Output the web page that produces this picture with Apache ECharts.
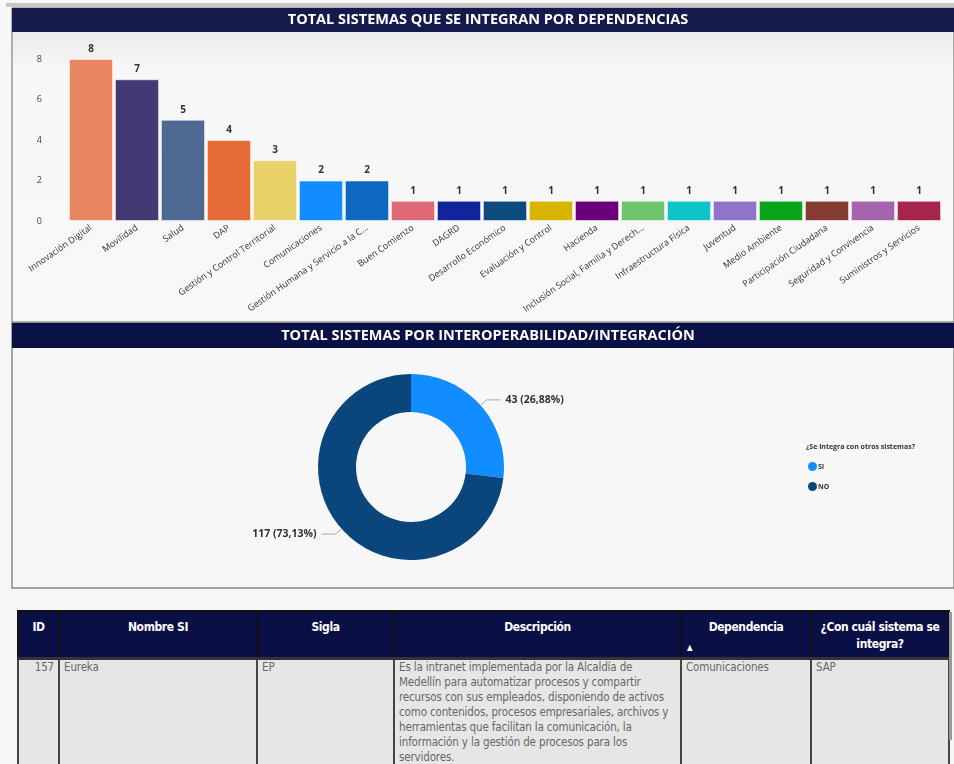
<!DOCTYPE html>
<html>
<head>
<meta charset="utf-8">
<script src="https://cdn.jsdelivr.net/npm/echarts@6/dist/echarts.min.js"></script>
<style>
  body { margin: 0; background: #f7f7f7; width: 954px; height: 764px; overflow: hidden; position: relative; }
  #chart { position: absolute; left: 0; top: 0; width: 954px; height: 600px; }
  #tabla { position: absolute; left: 17px; top: 610px; border-collapse: collapse; table-layout: fixed;
           font-family: "DejaVu Sans", sans-serif; font-stretch: condensed; }
  #tabla th { background: #0a0f45; color: #fff; font-weight: bold; font-size: 12px; vertical-align: top;
              padding: 7px 3px 0 3px; height: 38px; border-left: 2px solid #111; border-right: 2px solid #111;
              border-top: 2px solid #111; line-height: 17px; position: relative; white-space: nowrap;
              letter-spacing: -0.4px; }
  #tabla td { background: #e6e6e6; color: #666; font-size: 11.5px; vertical-align: top; padding: 0 4px 0 4px;
              border-left: 2px solid #444; border-right: 2px solid #444; border-top: 3px solid #333;
              height: 107px; line-height: 15px; white-space: nowrap; letter-spacing: -0.15px; overflow: hidden; }
  .flecha { position: absolute; left: 5px; bottom: 1px; font-size: 8px; }
  #barra { position: absolute; left: 949px; top: 612px; width: 3px; height: 128px; background: #999; }
</style>
</head>
<body>
<div id="chart"></div>
<table id="tabla">
  <colgroup>
    <col style="width:41px"><col style="width:198px"><col style="width:137px">
    <col style="width:287px"><col style="width:130px"><col style="width:138px">
  </colgroup>
  <tr>
    <th>ID</th><th>Nombre SI</th><th>Sigla</th><th>Descripción</th>
    <th>Dependencia<span class="flecha">▲</span></th><th>¿Con cuál sistema se<br>integra?</th>
  </tr>
  <tr>
    <td style="text-align:right">157</td><td>Eureka</td><td>EP</td>
    <td>Es la intranet implementada por la Alcaldía de<br>Medellín para automatizar procesos y compartir<br>recursos con sus empleados, disponiendo de activos<br>como contenidos, procesos empresariales, archivos y<br>herramientas que facilitan la comunicación, la<br>información y la gestión de procesos para los<br>servidores.</td>
    <td>Comunicaciones</td><td>SAP</td>
  </tr>
</table>
<div id="barra"></div>
<script>
var dependencias = ['Innovación Digital', 'Movilidad', 'Salud', 'DAP', 'Gestión y Control Territorial',
    'Comunicaciones', 'Gestión Humana y Servicio a la C…', 'Buen Comienzo', 'DAGRD', 'Desarrollo Económico',
    'Evaluación y Control', 'Hacienda', 'Inclusión Social, Familia y Derech…', 'Infraestructura Física',
    'Juventud', 'Medio Ambiente', 'Participación Ciudadana', 'Seguridad y Convivencia', 'Suministros y Servicios'];
var sistemas = [8, 7, 5, 4, 3, 2, 2, 1, 1, 1, 1, 1, 1, 1, 1, 1, 1, 1, 1];
var coloresBarras = ['#E8865F', '#433A73', '#4E6A92', '#E66C37', '#E8D166', '#118DFF', '#0E67C0', '#DF6A76',
    '#12239E', '#0D4A80', '#D9B300', '#6B007B', '#6FC56B', '#0CC5C8', '#9273CC', '#0AA418', '#853B31',
    '#A565AE', '#A6254D'];

var integra = ['SI', 'NO'];
var integraValores = [43, 117];
var coloresDona = ['#118DFF', '#0A467B'];

var total = integraValores.reduce(function (a, b) { return a + b; }, 0);

function porcentaje(v) {
    return (Math.round(v * 10000 / total) / 100).toFixed(2).replace('.', ',');
}

var chart = echarts.init(document.getElementById('chart'));
var fuente = '"Open Sans", "Noto Sans", sans-serif';

option = {
    animation: false,
    textStyle: { fontFamily: fuente },
    graphic: [
        { type: 'rect', shape: { x: 6, y: 3, width: 948, height: 4 }, style: { fill: '#c8c8c8' } },
        {
            type: 'rect', shape: { x: 12, y: 8, width: 942, height: 314 },
            style: {
                stroke: '#666', lineWidth: 1,
                fill: { type: 'linear', x: 0, y: 0, x2: 0, y2: 1,
                    colorStops: [{ offset: 0, color: '#e4e4e4' }, { offset: 0.2, color: '#f7f7f7' }, { offset: 1, color: '#f8f8f8' }] }
            }
        },
        { type: 'rect', shape: { x: 12, y: 8, width: 942, height: 24 }, style: { fill: '#141a4c' } },
        {
            type: 'text', x: 488, y: 20,
            style: { text: 'TOTAL SISTEMAS QUE SE INTEGRAN POR DEPENDENCIAS', fill: '#fff', font: 'bold 14.5px ' + fuente,
                textAlign: 'center', textVerticalAlign: 'middle' }
        },
        { type: 'rect', shape: { x: 12, y: 323, width: 942, height: 265 }, style: { fill: '#f7f7f7', stroke: '#888', lineWidth: 1.5 } },
        { type: 'rect', shape: { x: 12, y: 323, width: 942, height: 25 }, style: { fill: '#0a1146' } },
        {
            type: 'text', x: 488, y: 336,
            style: { text: 'TOTAL SISTEMAS POR INTEROPERABILIDAD/INTEGRACIÓN', fill: '#fff', font: 'bold 14.5px ' + fuente,
                textAlign: 'center', textVerticalAlign: 'middle' }
        },
        {
            type: 'text', x: 806, y: 447,
            style: { text: '¿Se integra con otros sistemas?', fill: '#333', font: 'bold 7px ' + fuente,
                textVerticalAlign: 'middle' }
        }
    ],
    grid: { left: 68, right: 12, top: 59, height: 162 },
    xAxis: {
        type: 'category',
        data: dependencias,
        axisLine: { show: false },
        axisTick: { show: false },
        axisLabel: { interval: 0, rotate: 35, fontSize: 9, color: '#333', margin: 6 }
    },
    yAxis: {
        type: 'value',
        min: 0, max: 8, interval: 2,
        splitLine: { show: false },
        axisLabel: { fontSize: 9, color: '#444', margin: 26 }
    },
    legend: {
        data: integra,
        orient: 'vertical',
        left: 803, top: 457,
        icon: 'circle',
        itemWidth: 9, itemHeight: 9, itemGap: 11,
        textStyle: { fontSize: 7, fontWeight: 'bold', color: '#333', padding: [0, 0, 0, -4] }
    },
    series: [{
        type: 'bar',
        data: sistemas.map(function (v, i) { return { value: v, itemStyle: { color: coloresBarras[i] } }; }),
        barCategoryGap: '4%',
        itemStyle: { borderColor: 'rgba(255,255,255,0.55)', borderWidth: 1 },
        label: { show: true, position: 'top', distance: 5, fontSize: 10, fontWeight: 'bold', color: '#333' }
    }, {
        type: 'pie',
        center: [411, 467],
        radius: [55, 93],
        startAngle: 90,
        data: integra.map(function (n, i) {
            return { name: n, value: integraValores[i], itemStyle: { color: coloresDona[i] } };
        }),
        label: {
            fontSize: 10.5, fontWeight: 'bold', color: '#333',
            formatter: function (p) { return p.value + ' (' + porcentaje(p.value) + '%)'; }
        },
        labelLine: { length: 8, length2: 14, lineStyle: { color: '#aaa' } }
    }]
};

chart.setOption(option);
</script>
</body>
</html>
